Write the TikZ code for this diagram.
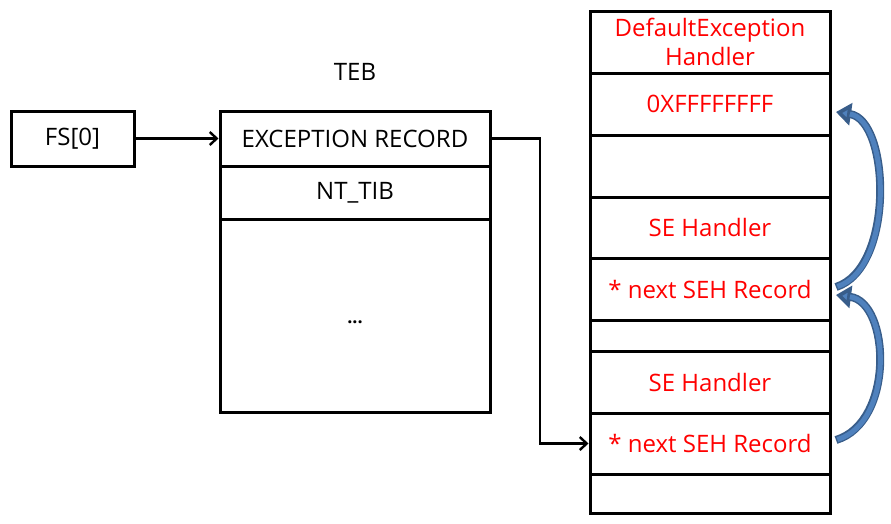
\documentclass[tikz,border=0pt]{standalone}
\usepackage{fontspec}
\setmainfont{Open Sans}
\usetikzlibrary{arrows.meta}
\definecolor{sehred}{HTML}{FF0000}
\definecolor{bluefill}{HTML}{4F81BD}
\definecolor{blueedge}{HTML}{385D8A}
\tikzset{
  box/.style={draw=black, line width=3pt, inner sep=0pt, font=\fontsize{24}{29}\selectfont},
  row/.style={box, minimum width=240pt, text=sehred, align=center},
  conn/.style={draw=black, line width=2.4pt, -{Straight Barb[length=7pt,width=13pt,line width=2.4pt]}},
  curvearrow/.style={draw=blueedge, line width=8pt, -{Triangle[length=15pt,width=22pt,fill=bluefill]}},
  curveinner/.style={draw=bluefill, line width=5pt},
}
\begin{document}
\begin{tikzpicture}[x=1pt,y=-1pt]
\useasboundingbox (0,0) rectangle (891,523);
% FS[0]
\node[box, minimum width=123pt, minimum height=55pt] (fs) at (72.5,138.5) {FS[0]};
% TEB
\node[font=\fontsize{24}{29}\selectfont] (teblabel) at (355,72) {TEB};
\node[box, minimum width=270pt, minimum height=55pt] (exc) at (355,138.5) {EXCEPTION RECORD};
\node[box, minimum width=270pt, minimum height=53pt] (nttib) at (355,192.5) {NT\_TIB};
\node[box, minimum width=270pt, minimum height=193pt] (dots) at (355,315.5) {\raisebox{-16pt}{\fontsize{18}{20}\selectfont\textbf{...}}};
% Stack
\node[row, minimum height=62pt] (r1) at (710,42) {DefaultException\\Handler};
\node[row, minimum height=62pt] (r2) at (710,104) {0XFFFFFFFF};
\node[row, minimum height=62pt] (r3) at (710,166) {};
\node[row, minimum height=61pt] (r4) at (710,227.5) {SE Handler};
\node[row, minimum height=62pt] (r5) at (710,289) {* next SEH Record};
\node[row, minimum height=31pt] (r6) at (710,335.5) {};
\node[row, minimum height=62pt] (r7) at (710,382) {SE Handler};
\node[row, minimum height=61pt] (r8) at (710,443.5) {* next SEH Record};
\node[row, minimum height=39pt] (r9) at (710,493.5) {};
% connectors
\draw[conn] (fs.east) -- (exc.west);
\coordinate (bend1) at (540,138.5);
\coordinate (bend2) at (540,443.5);
\draw[conn] (exc.east) -- (bend1) -- (bend2) -- (r8.west);
% curved arrows
\coordinate (t1) at (836,287);
\coordinate (h1) at (836,112);
\coordinate (t2) at (836,440);
\coordinate (h2) at (836,295);
\draw[curvearrow] (t1) .. controls (895,268) and (890,120) .. (h1);
\draw[curveinner, shorten >=14pt, shorten <=1.5pt] (t1) .. controls (895,268) and (890,120) .. (h1);
\draw[curvearrow] (t2) .. controls (895,422) and (890,302) .. (h2);
\draw[curveinner, shorten >=14pt, shorten <=1.5pt] (t2) .. controls (895,422) and (890,302) .. (h2);
\end{tikzpicture}
\end{document}
